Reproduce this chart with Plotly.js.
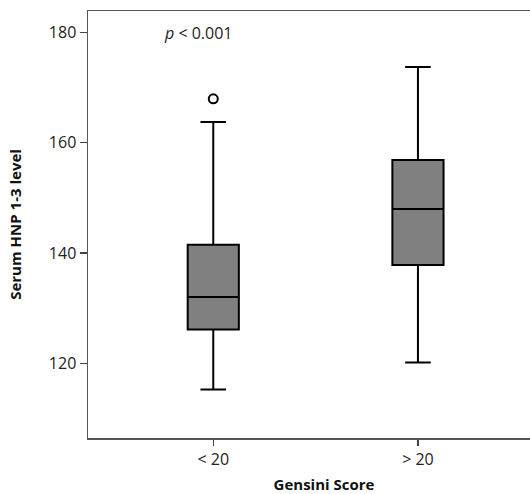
<!DOCTYPE html>
<html><head><meta charset="utf-8">
<script src="https://cdn.plot.ly/plotly-3.0.1.min.js"></script>
<style>html,body{margin:0;padding:0;background:#fff;overflow:hidden;}#chart{width:560px;height:494px;}</style>
</head><body><div id="chart"></div>
<script>
const categories = ["< 20", "> 20"];
const lowerWhisker = [115.2, 120.1];
const q1Values = [126.1, 137.8];
const medianValues = [132, 148];
const q3Values = [141.5, 156.9];
const upperWhisker = [163.8, 173.8];
const outlierCategories = ["< 20"];
const outlierValues = [168];

const traces = [
  {
    type: "box",
    x: categories,
    q1: q1Values,
    median: medianValues,
    q3: q3Values,
    lowerfence: lowerWhisker,
    upperfence: upperWhisker,
    boxpoints: false,
    width: 0.25,
    whiskerwidth: 0.5,
    fillcolor: "#808080",
    line: {color: "#000000", width: 2},
    hoverinfo: "skip",
    showlegend: false
  },
  {
    type: "scatter",
    mode: "markers",
    x: outlierCategories,
    y: outlierValues,
    marker: {symbol: "circle-open", size: 9, color: "#000000", line: {width: 2, color: "#000000"}},
    showlegend: false,
    hoverinfo: "skip"
  }
];

const layout = {
  width: 560, height: 494,
  margin: {l: 88, r: 0, t: 11, b: 56},
  paper_bgcolor: "#ffffff",
  plot_bgcolor: "#ffffff",
  font: {family: "Open Sans, Noto Sans, sans-serif", color: "#222222", size: 16},
  xaxis: {
    type: "category",
    range: [-0.612, 1.694],
    showgrid: false, zeroline: false,
    showline: true, linecolor: "#555555", linewidth: 1.5, mirror: true,
    ticks: "outside", ticklen: 6, tickwidth: 1.2, tickcolor: "#444444",
    tickfont: {size: 16, color: "#222222"},
    title: {text: "<b>Gensini Score</b>", font: {size: 15, color: "#111111"}, standoff: 17}
  },
  yaxis: {
    range: [106.4, 183.95],
    tickvals: [120, 140, 160, 180],
    ticksuffix: "\u00a0",
    showgrid: false, zeroline: false,
    showline: true, linecolor: "#555555", linewidth: 1.5,
    ticks: "outside", ticklen: 7, tickwidth: 1.2, tickcolor: "#444444",
    tickfont: {size: 16, color: "#222222"},
    title: {text: "<b>Serum HNP 1-3 level</b>", font: {size: 15, color: "#111111"}, standoff: 23}
  },
  annotations: [{
    x: 0, xref: "x", xshift: -15, y: 180, yref: "y",
    text: "<i>p</i> < 0.001", showarrow: false,
    font: {size: 16, color: "#222222"}
  }]
};

Plotly.newPlot("chart", traces, layout, {displayModeBar: false, staticPlot: true});
</script>
</body></html>
